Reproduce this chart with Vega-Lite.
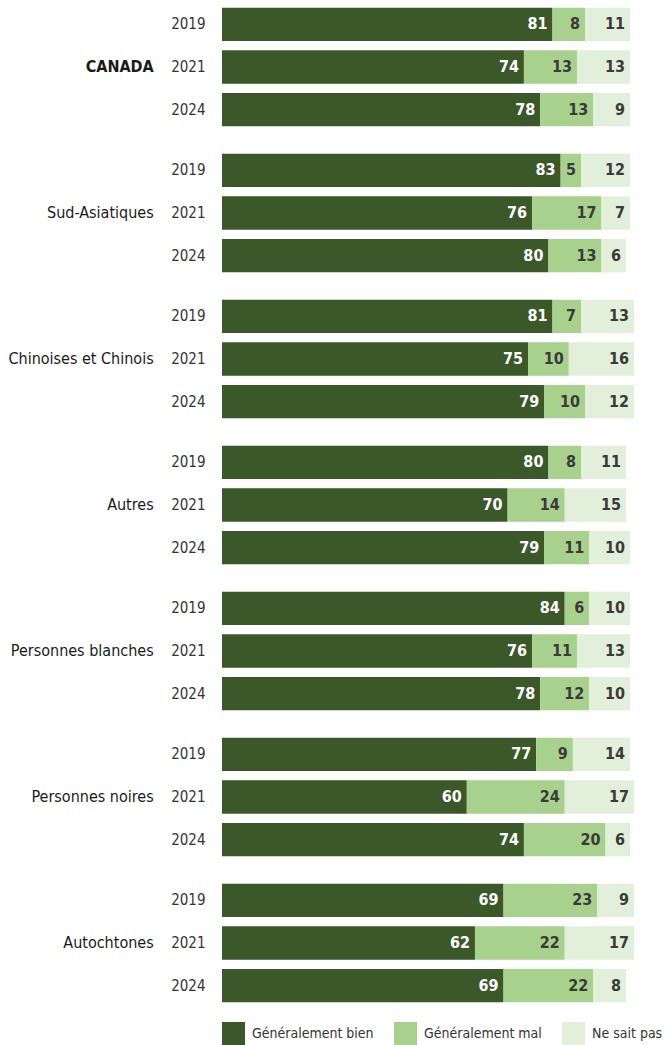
{
  "$schema": "https://vega.github.io/schema/vega-lite/v6.json",
  "padding": {"left": 8, "top": 3, "right": 0, "bottom": 0},
  "data": {"values": [
    {"group": "CANADA", "year": "2019", "Généralement bien": 81, "Généralement mal": 8, "Ne sait pas": 11},
    {"group": "CANADA", "year": "2021", "Généralement bien": 74, "Généralement mal": 13, "Ne sait pas": 13},
    {"group": "CANADA", "year": "2024", "Généralement bien": 78, "Généralement mal": 13, "Ne sait pas": 9},
    {"group": "Sud-Asiatiques", "year": "2019", "Généralement bien": 83, "Généralement mal": 5, "Ne sait pas": 12},
    {"group": "Sud-Asiatiques", "year": "2021", "Généralement bien": 76, "Généralement mal": 17, "Ne sait pas": 7},
    {"group": "Sud-Asiatiques", "year": "2024", "Généralement bien": 80, "Généralement mal": 13, "Ne sait pas": 6},
    {"group": "Chinoises et Chinois", "year": "2019", "Généralement bien": 81, "Généralement mal": 7, "Ne sait pas": 13},
    {"group": "Chinoises et Chinois", "year": "2021", "Généralement bien": 75, "Généralement mal": 10, "Ne sait pas": 16},
    {"group": "Chinoises et Chinois", "year": "2024", "Généralement bien": 79, "Généralement mal": 10, "Ne sait pas": 12},
    {"group": "Autres", "year": "2019", "Généralement bien": 80, "Généralement mal": 8, "Ne sait pas": 11},
    {"group": "Autres", "year": "2021", "Généralement bien": 70, "Généralement mal": 14, "Ne sait pas": 15},
    {"group": "Autres", "year": "2024", "Généralement bien": 79, "Généralement mal": 11, "Ne sait pas": 10},
    {"group": "Personnes blanches", "year": "2019", "Généralement bien": 84, "Généralement mal": 6, "Ne sait pas": 10},
    {"group": "Personnes blanches", "year": "2021", "Généralement bien": 76, "Généralement mal": 11, "Ne sait pas": 13},
    {"group": "Personnes blanches", "year": "2024", "Généralement bien": 78, "Généralement mal": 12, "Ne sait pas": 10},
    {"group": "Personnes noires", "year": "2019", "Généralement bien": 77, "Généralement mal": 9, "Ne sait pas": 14},
    {"group": "Personnes noires", "year": "2021", "Généralement bien": 60, "Généralement mal": 24, "Ne sait pas": 17},
    {"group": "Personnes noires", "year": "2024", "Généralement bien": 74, "Généralement mal": 20, "Ne sait pas": 6},
    {"group": "Autochtones", "year": "2019", "Généralement bien": 69, "Généralement mal": 23, "Ne sait pas": 9},
    {"group": "Autochtones", "year": "2021", "Généralement bien": 62, "Généralement mal": 22, "Ne sait pas": 17},
    {"group": "Autochtones", "year": "2024", "Généralement bien": 69, "Généralement mal": 22, "Ne sait pas": 8}
  ]},
  "transform": [
    {"fold": ["Généralement bien", "Généralement mal", "Ne sait pas"], "as": ["cat", "value"]}
  ],
  "facet": {
    "row": {
      "field": "group", "type": "nominal",
      "sort": ["CANADA", "Sud-Asiatiques", "Chinoises et Chinois", "Autres", "Personnes blanches", "Personnes noires", "Autochtones"],
      "title": null,
      "header": {
        "labelAngle": 0, "labelOrient": "left", "labelAlign": "left", "labelBaseline": "middle",
        "labelFont": "DejaVu Sans Condensed, sans-serif",
        "labelFontSize": 16, "labelColor": "#1a1a1a", "labelPadding": 17,
        "labelFontWeight": {"expr": "parent['group'] === 'CANADA' ? 'bold' : 'normal'"}
      }
    }
  },
  "spacing": 18,
  "spec": {
    "width": 408,
    "height": 128,
    "encoding": {
      "y": {
        "field": "year", "type": "nominal", "title": null,
        "scale": {"paddingInner": 0.22, "paddingOuter": 0.11},
        "axis": {"ticks": false, "domain": false, "labelPadding": 17, "labelFontSize": 15,
                 "labelFont": "DejaVu Sans Condensed, sans-serif",
                 "labelColor": "#333333", "labelFontWeight": "normal"}
      },
      "x": {
        "field": "value", "type": "quantitative", "stack": "zero",
        "scale": {"domain": [0, 100], "nice": false, "zero": true},
        "axis": null
      },
      "order": {"field": "cat"}
    },
    "layer": [
      {
        "mark": {"type": "bar", "clip": false},
        "encoding": {
          "color": {
            "field": "cat", "type": "nominal",
            "scale": {"domain": ["Généralement bien", "Généralement mal", "Ne sait pas"],
                      "range": ["#3b5829", "#a9d18e", "#e2efda"]},
            "legend": {
              "title": null, "orient": "bottom", "direction": "horizontal",
              "symbolType": "square", "symbolSize": 529, "symbolStrokeWidth": 0,
              "labelFontSize": 14, "labelColor": "#333333",
              "labelFont": "DejaVu Sans Condensed, sans-serif",
              "columnPadding": 20, "labelOffset": 7, "offset": 15
            }
          }
        }
      },
      {
        "mark": {"type": "text", "align": "right", "baseline": "middle", "dx": -5,
                 "fontSize": 16, "fontWeight": "bold",
                 "font": "DejaVu Sans Condensed, sans-serif"},
        "encoding": {
          "detail": {"field": "cat"},
          "text": {"field": "value", "type": "quantitative"},
          "color": {
            "condition": {"test": "datum.cat === 'Généralement bien'", "value": "#ffffff"},
            "value": "#3a3a3a"
          }
        }
      }
    ]
  },
  "config": {
    "view": {"stroke": null},
    "font": "DejaVu Sans Condensed, sans-serif"
  }
}
